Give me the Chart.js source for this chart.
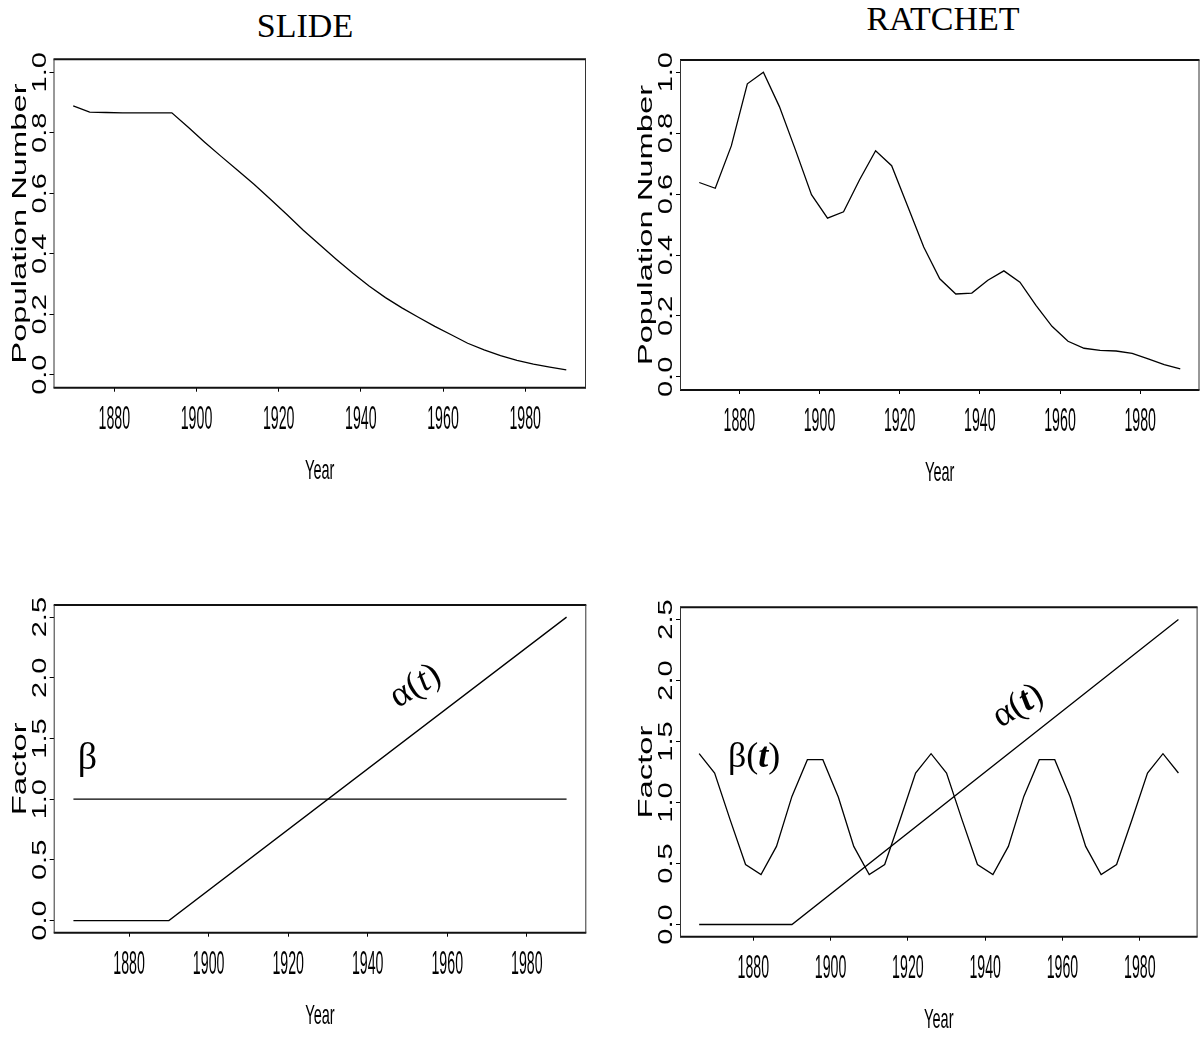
<!DOCTYPE html>
<html>
<head>
<meta charset="utf-8">
<script src="https://cdn.jsdelivr.net/npm/chart.js@4.4.0/dist/chart.umd.min.js"></script>
<style>
  html, body { margin: 0; padding: 0; background: #fff; width: 1200px; height: 1039px; overflow: hidden; }
  canvas { position: absolute; }
  .title { position: absolute; font-family: "Liberation Serif", "Times New Roman", serif; font-size: 34px;
           line-height: 34px; height: 34px; color: #000; white-space: nowrap; transform: translateX(-50%); }
</style>
</head>
<body>
<div class="title" style="left:305px; top:9px;">SLIDE</div>
<div class="title" style="left:943px; top:2px;">RATCHET</div>
<canvas id="slideChart" width="620" height="500" style="left:0; top:0;"></canvas>
<canvas id="ratchetChart" width="600" height="500" style="left:620px; top:0;"></canvas>
<canvas id="slideFactor" width="620" height="499" style="left:0; top:540px;"></canvas>
<canvas id="ratchetFactor" width="600" height="499" style="left:620px; top:540px;"></canvas>
<script>
// ---- data ----
const yearsTop = [1870, 1874, 1878, 1882, 1886, 1890, 1894, 1898, 1902, 1906, 1910, 1914, 1918, 1922, 1926, 1930,
                  1934, 1938, 1942, 1946, 1950, 1954, 1958, 1962, 1966, 1970, 1974, 1978, 1982, 1986, 1990];
const slidePop = [0.889, 0.868, 0.867, 0.866, 0.866, 0.866, 0.866, 0.818, 0.769, 0.722, 0.676, 0.630, 0.580, 0.530, 0.478, 0.430,
                  0.382, 0.336, 0.293, 0.255, 0.221, 0.190, 0.160, 0.132, 0.104, 0.082, 0.063, 0.047, 0.035, 0.025, 0.016];
const ratchetPop = [0.638, 0.619, 0.758, 0.962, 1.000, 0.887, 0.745, 0.598, 0.521, 0.542, 0.647, 0.742, 0.693, 0.560, 0.426, 0.322,
                    0.272, 0.275, 0.317, 0.348, 0.311, 0.235, 0.166, 0.117, 0.094, 0.087, 0.085, 0.077, 0.059, 0.040, 0.026];

const alphaYears = [1866, 1890, 1990];
const alphaValues = [0.0, 0.0, 2.5];
const betaConstYears = [1866, 1990];
const betaConstValues = [1.0, 1.0];

const yearsBottom = [1866, 1870, 1874, 1878, 1882, 1886, 1890, 1894, 1898, 1902, 1906, 1910, 1914, 1918, 1922, 1926,
                     1930, 1934, 1938, 1942, 1946, 1950, 1954, 1958, 1962, 1966, 1970, 1974, 1978, 1982, 1986, 1990];
const betaRatchet = [1.400, 1.242, 0.860, 0.492, 0.410, 0.640, 1.050, 1.351, 1.351, 1.045, 0.640, 0.410, 0.492, 0.860, 1.242, 1.400,
                     1.242, 0.860, 0.492, 0.410, 0.640, 1.050, 1.351, 1.351, 1.045, 0.640, 0.410, 0.492, 0.860, 1.242, 1.400, 1.242];

const yearTicks = [1880, 1900, 1920, 1940, 1960, 1980];
const yearTickLabels = ["1880", "1900", "1920", "1940", "1960", "1980"];
const popTicks = [0, 0.2, 0.4, 0.6, 0.8, 1.0];
const popTickLabels = ["0.0", "0.2", "0.4", "0.6", "0.8", "1.0"];
const factorTicks = [0, 0.5, 1.0, 1.5, 2.0, 2.5];
const factorTickLabels = ["0.0", "0.5", "1.0", "1.5", "2.0", "2.5"];

function toPoints(xs, ys) {
    return xs.map((x, i) => ({ x: x, y: ys[i] }));
}

// text drawn squeezed/stretched like the original S-Plus output
function stretchText(ctx, text, x, y, rot, size, sx) {
    ctx.save();
    ctx.translate(x, y);
    ctx.rotate(rot);
    ctx.scale(sx, 1);
    ctx.font = size + 'px "Liberation Sans", Arial, sans-serif';
    ctx.textAlign = 'center';
    ctx.textBaseline = 'alphabetic';
    ctx.fillText(text, 0, 0);
    ctx.restore();
}

function drawNote(ctx, parts, x, y, rot, size) {
    ctx.save();
    ctx.translate(x, y);
    ctx.rotate(rot);
    ctx.textBaseline = 'middle';
    ctx.textAlign = 'left';
    const fonts = parts.map(p => (p[1] ? p[1] + ' ' : '') + size + 'px "Liberation Serif", serif');
    let total = 0;
    const widths = parts.map((p, i) => { ctx.font = fonts[i]; const w = ctx.measureText(p[0]).width; total += w; return w; });
    let cx = -total / 2;
    parts.forEach((p, i) => {
        ctx.font = fonts[i];
        ctx.fillText(p[0], cx, 0);
        cx += widths[i];
    });
    ctx.restore();
}

const axisText = {
    id: 'axisText',
    afterDraw(chart, args, opts) {
        const ctx = chart.ctx;
        const a = chart.chartArea;
        const xs = chart.scales.x, ys = chart.scales.y;
        ctx.save();
        // frame round the plot
        ctx.strokeStyle = '#111';
        ctx.lineWidth = 2;
        ctx.beginPath();
        ctx.moveTo(a.left, a.top); ctx.lineTo(a.right, a.top);
        ctx.moveTo(a.left, a.bottom); ctx.lineTo(a.right, a.bottom);
        ctx.stroke();
        ctx.lineWidth = 1;
        ctx.strokeStyle = '#333';
        ctx.beginPath();
        ctx.moveTo(a.left + 0.5, a.top); ctx.lineTo(a.left + 0.5, a.bottom);
        ctx.moveTo(a.right - 0.5, a.top); ctx.lineTo(a.right - 0.5, a.bottom);
        ctx.stroke();

        ctx.fillStyle = '#000';
        opts.yTicks.forEach((v, i) => {
            stretchText(ctx, opts.yLabels[i], a.left - 8, ys.getPixelForValue(v), -Math.PI / 2, 20, 1.45);
        });
        stretchText(ctx, opts.yTitle, a.left - 28, (a.top + a.bottom) / 2, -Math.PI / 2, 19.5, 1.68);
        yearTicks.forEach((v, i) => {
            stretchText(ctx, yearTickLabels[i], xs.getPixelForValue(v), a.bottom + 41, 0, 33, 0.43);
        });
        stretchText(ctx, 'Year', (a.left + a.right) / 2, a.bottom + 91, 0, 28, 0.52);

        (opts.notes || []).forEach(n => {
            drawNote(ctx, n.parts, xs.getPixelForValue(n.year), ys.getPixelForValue(n.value), n.rot, n.size);
        });
        ctx.restore();
    }
};

function makeChart(canvasId, datasets, xRange, yRange, yTicks, yLabels, yTitle, box, notes) {
    const ctx = document.getElementById(canvasId).getContext('2d');
    return new Chart(ctx, {
        type: 'line',
        data: {
            datasets: datasets.map(d => ({
                data: d,
                borderColor: '#000',
                borderWidth: 1.3,
                pointRadius: 0,
                fill: false,
                tension: 0
            }))
        },
        options: {
            responsive: false,
            animation: false,
            events: [],
            layout: { padding: { top: box.padTop, right: box.padRight, left: 0, bottom: 0 } },
            scales: {
                x: {
                    type: 'linear',
                    min: xRange[0],
                    max: xRange[1],
                    afterBuildTicks: s => { s.ticks = yearTicks.map(v => ({ value: v })); },
                    afterFit: s => { s.height = box.xHeight; },
                    ticks: { display: false },
                    grid: { drawOnChartArea: false, drawTicks: true, tickLength: 4, color: '#000', lineWidth: 1 },
                    border: { display: false }
                },
                y: {
                    type: 'linear',
                    min: yRange[0],
                    max: yRange[1],
                    afterBuildTicks: s => { s.ticks = yTicks.map(v => ({ value: v })); },
                    afterFit: s => { s.width = box.yWidth; },
                    ticks: { display: false },
                    grid: { drawOnChartArea: false, drawTicks: true, tickLength: 4, color: '#000', lineWidth: 1 },
                    border: { display: false }
                }
            },
            plugins: {
                legend: { display: false },
                tooltip: { enabled: false },
                axisText: { yTicks: yTicks, yLabels: yLabels, yTitle: yTitle, notes: notes }
            }
        },
        plugins: [axisText]
    });
}

makeChart('slideChart', [toPoints(yearsTop, slidePop)], [1865.2, 1994.8], [-0.043, 1.043],
    popTicks, popTickLabels, 'Population Number',
    { yWidth: 53.5, padTop: 59.3, padRight: 34, xHeight: 112.3 }, []);

makeChart('ratchetChart', [toPoints(yearsTop, ratchetPop)], [1865.2, 1994.8], [-0.043, 1.040],
    popTicks, popTickLabels, 'Population Number',
    { yWidth: 60, padTop: 60, padRight: 20.5, xHeight: 110 }, []);

makeChart('slideFactor', [toPoints(alphaYears, alphaValues), toPoints(betaConstYears, betaConstValues)],
    [1861.04, 1994.96], [-0.1, 2.6], factorTicks, factorTickLabels, 'Factor',
    { yWidth: 53.7, padTop: 65, padRight: 33.7, xHeight: 106.3 },
    [
        { parts: [['β', '']], year: 1869.5, value: 1.33, rot: 0, size: 38 },
        { parts: [['α(', ''], ['t', 'italic'], [')', '']], year: 1952.0, value: 1.93, rot: -0.55, size: 36 }
    ]);

makeChart('ratchetFactor', [toPoints(alphaYears, alphaValues), toPoints(yearsBottom, betaRatchet)],
    [1861.04, 1994.96], [-0.1, 2.6], factorTicks, factorTickLabels, 'Factor',
    { yWidth: 60, padTop: 67.3, padRight: 22.4, xHeight: 102.3 },
    [
        { parts: [['β(', ''], ['t', 'italic bold'], [')', '']], year: 1880.2, value: 1.365, rot: 0, size: 36 },
        { parts: [['α(', ''], ['t', 'italic bold'], [')', '']], year: 1948.5, value: 1.79, rot: -0.55, size: 36 }
    ]);
</script>
</body>
</html>
